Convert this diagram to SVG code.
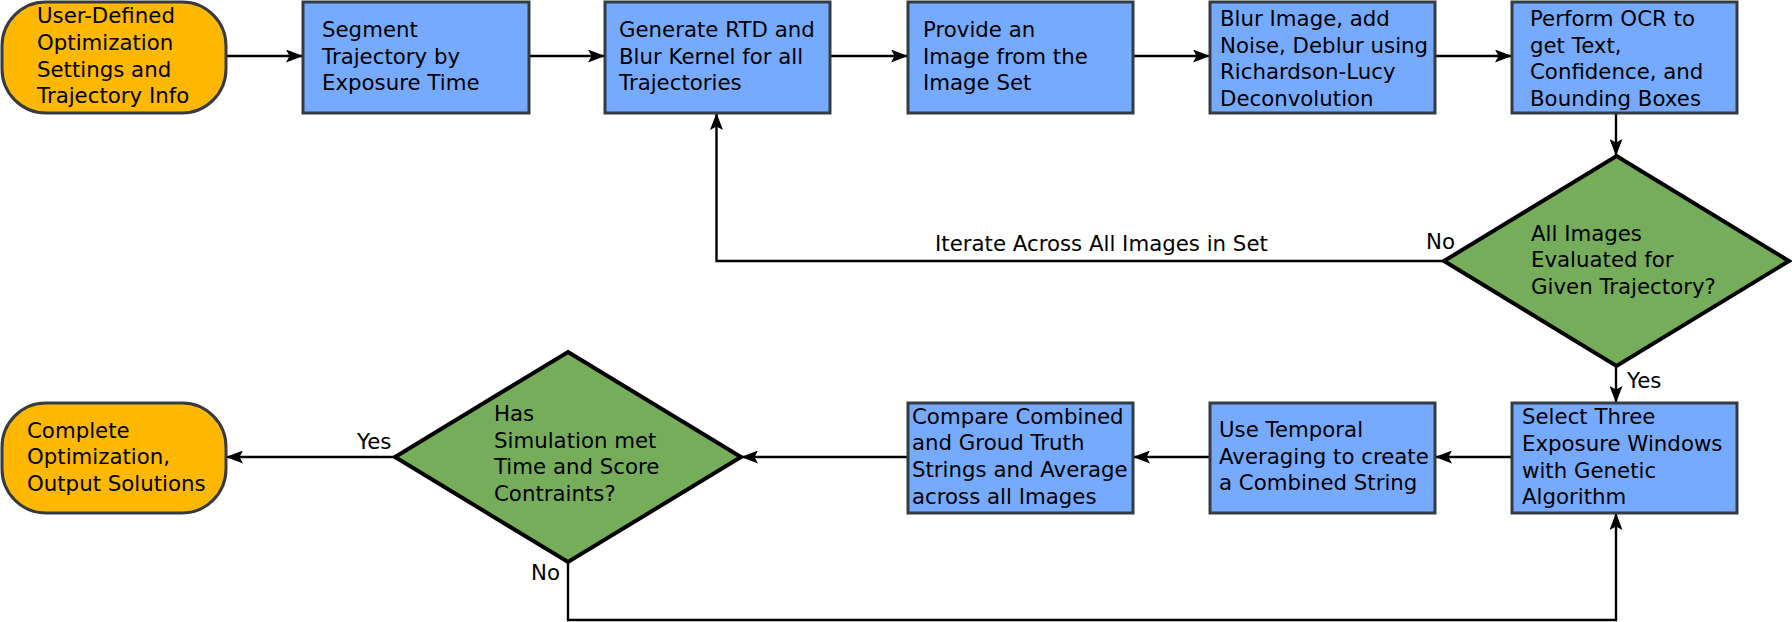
<svg xmlns="http://www.w3.org/2000/svg" width="1792" height="622" viewBox="0 0 1792 622">
<style>
.term{fill:#FFB800;stroke:#363b3f;stroke-width:3}
.box{fill:#76AAFF;stroke:#333c42;stroke-width:3}
.dec{fill:#76AD5B;stroke:#000;stroke-width:4;stroke-linejoin:miter}
.t{font-family:"DejaVu Sans",Verdana,sans-serif;font-size:21.3px;fill:#000}
.c{fill:none;stroke:#000;stroke-width:2.4}
</style>
<defs>
<marker id="ah" viewBox="0 0 17 13" refX="16" refY="6.5" markerWidth="17" markerHeight="13" markerUnits="userSpaceOnUse" orient="auto">
<path d="M0,0 L17,6.5 L0,13 L3.5,6.5 Z" fill="#000"/>
</marker>
</defs>
<rect width="1792" height="622" fill="#fff"/>
<g id="connectors">
<line class="c" x1="226" y1="56" x2="302" y2="56" marker-end="url(#ah)"/>
<line class="c" x1="529" y1="56" x2="604" y2="56" marker-end="url(#ah)"/>
<line class="c" x1="830" y1="56" x2="907" y2="56" marker-end="url(#ah)"/>
<line class="c" x1="1133" y1="56" x2="1209" y2="56" marker-end="url(#ah)"/>
<line class="c" x1="1435" y1="56" x2="1511" y2="56" marker-end="url(#ah)"/>
<line class="c" x1="1616" y1="113" x2="1616" y2="155" marker-end="url(#ah)"/>
<polyline class="c" points="1444,261 716.5,261 716.5,114" marker-end="url(#ah)"/>
<line class="c" x1="1616" y1="366" x2="1616" y2="402" marker-end="url(#ah)"/>
<line class="c" x1="1512" y1="457" x2="1436" y2="457" marker-end="url(#ah)"/>
<line class="c" x1="1210" y1="457" x2="1134" y2="457" marker-end="url(#ah)"/>
<line class="c" x1="908" y1="457" x2="742" y2="457" marker-end="url(#ah)"/>
<line class="c" x1="395" y1="457" x2="227" y2="457" marker-end="url(#ah)"/>
<polyline class="c" points="568,562 568,620 1616,620 1616,514" marker-end="url(#ah)"/>
<text class="t" x="935" y="251">Iterate Across All Images in Set</text>
<text class="t" x="1426" y="249">No</text>
<text class="t" x="1627" y="388">Yes</text>
<text class="t" x="357" y="449">Yes</text>
<text class="t" x="531" y="580">No</text>
</g>
<g id="start">
<rect class="term" x="2" y="2" width="224" height="111" rx="44" ry="44"/>
<text class="t"><tspan x="37" y="23">User-Defined</tspan><tspan x="37" y="50">Optimization</tspan><tspan x="37" y="77">Settings and</tspan><tspan x="37" y="103">Trajectory Info</tspan></text>
</g>
<g id="segment">
<rect class="box" x="303" y="2" width="226" height="111"/>
<text class="t"><tspan x="322" y="37">Segment</tspan><tspan x="322" y="63.5">Trajectory by</tspan><tspan x="322" y="90">Exposure Time</tspan></text>
</g>
<g id="generate">
<rect class="box" x="605" y="2" width="225" height="111"/>
<text class="t"><tspan x="619" y="37">Generate RTD and</tspan><tspan x="619" y="63.5">Blur Kernel for all</tspan><tspan x="619" y="90">Trajectories</tspan></text>
</g>
<g id="provide">
<rect class="box" x="908" y="2" width="225" height="111"/>
<text class="t"><tspan x="923" y="37">Provide an</tspan><tspan x="923" y="63.5">Image from the</tspan><tspan x="923" y="90">Image Set</tspan></text>
</g>
<g id="blur">
<rect class="box" x="1210" y="2" width="225" height="111"/>
<text class="t"><tspan x="1220" y="26">Blur Image, add</tspan><tspan x="1220" y="52.7">Noise, Deblur using</tspan><tspan x="1220" y="79.3">Richardson-Lucy</tspan><tspan x="1220" y="106">Deconvolution</tspan></text>
</g>
<g id="ocr">
<rect class="box" x="1512" y="2" width="225" height="111"/>
<text class="t"><tspan x="1530" y="26">Perform OCR to</tspan><tspan x="1530" y="52.7">get Text,</tspan><tspan x="1530" y="79.3">Confidence, and</tspan><tspan x="1530" y="106">Bounding Boxes</tspan></text>
</g>
<g id="allImages">
<polygon class="dec" points="1616.5,156 1789,261 1616.5,366 1444,261"/>
<text class="t"><tspan x="1531" y="240.7">All Images</tspan><tspan x="1531" y="267.3">Evaluated for</tspan><tspan x="1531" y="294">Given Trajectory?</tspan></text>
</g>
<g id="select">
<rect class="box" x="1512" y="403" width="225" height="110"/>
<text class="t"><tspan x="1522" y="424.3">Select Three</tspan><tspan x="1522" y="451">Exposure Windows</tspan><tspan x="1522" y="477.7">with Genetic</tspan><tspan x="1522" y="504.3">Algorithm</tspan></text>
</g>
<g id="temporal">
<rect class="box" x="1210" y="403" width="225" height="110"/>
<text class="t"><tspan x="1219" y="437">Use Temporal</tspan><tspan x="1219" y="463.7">Averaging to create</tspan><tspan x="1219" y="490.3">a Combined String</tspan></text>
</g>
<g id="compare">
<rect class="box" x="908" y="403" width="225" height="110"/>
<text class="t"><tspan x="912" y="423.7">Compare Combined</tspan><tspan x="912" y="450.3">and Groud Truth</tspan><tspan x="912" y="477">Strings and Average</tspan><tspan x="912" y="503.7">across all Images</tspan></text>
</g>
<g id="constraints">
<polygon class="dec" points="568,352 741,457 568,562 395,457"/>
<text class="t"><tspan x="494" y="421">Has</tspan><tspan x="494" y="447.7">Simulation met</tspan><tspan x="494" y="474.3">Time and Score</tspan><tspan x="494" y="501">Contraints?</tspan></text>
</g>
<g id="complete">
<rect class="term" x="2" y="403" width="224" height="110" rx="44" ry="44"/>
<text class="t"><tspan x="27" y="437.7">Complete</tspan><tspan x="27" y="464.3">Optimization,</tspan><tspan x="27" y="491">Output Solutions</tspan></text>
</g>
</svg>
